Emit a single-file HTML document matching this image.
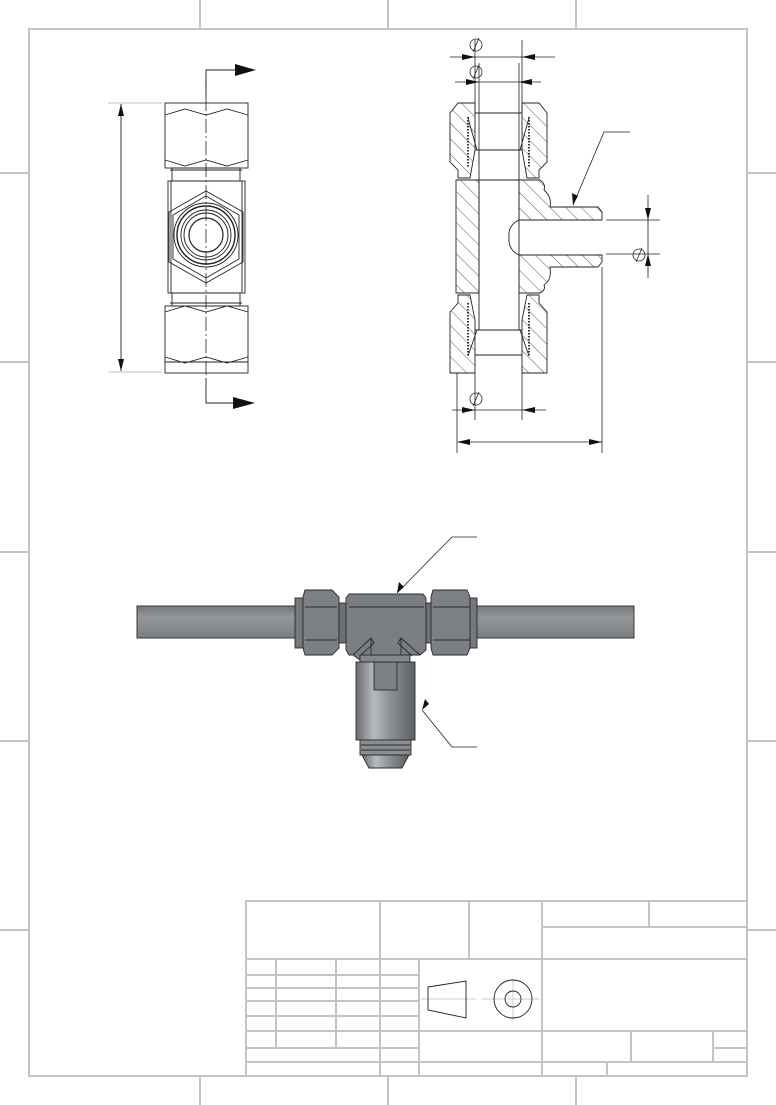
<!DOCTYPE html>
<html><head><meta charset="utf-8"><style>html,body{margin:0;padding:0;background:#fff}svg{display:block}</style></head><body>
<svg width="776" height="1105" viewBox="0 0 776 1105" xmlns="http://www.w3.org/2000/svg" font-family="Liberation Sans, sans-serif">
<defs>
<pattern id="h" patternUnits="userSpaceOnUse" width="11" height="11" patternTransform="rotate(-45)">
<rect width="11" height="11" fill="#fff"/><line x1="0" y1="0" x2="0" y2="11" stroke="#333" stroke-width="0.8"/>
</pattern>
<linearGradient id="tube" x1="0" y1="0" x2="0" y2="1"><stop offset="0" stop-color="#76797c"/><stop offset="0.35" stop-color="#94979a"/><stop offset="1" stop-color="#7b7e81"/></linearGradient>
<linearGradient id="cyl" x1="0" y1="0" x2="1" y2="0"><stop offset="0" stop-color="#6a6d70"/><stop offset="0.3" stop-color="#b8bbbe"/><stop offset="0.6" stop-color="#8b8e91"/><stop offset="1" stop-color="#5d6063"/></linearGradient>
</defs>
<g stroke="#c4c4c4" stroke-width="2" fill="none">
<rect x="29" y="29" width="718" height="1047"/>
<path d="M200 0V29M388 0V29M576 0V29M200 1076V1105M388 1076V1105M576 1076V1105M0 173H29M0 362H29M0 552H29M0 741H29M0 930H29M747 173H776M747 362H776M747 552H776M747 741H776M747 930H776"/>
</g>
<g stroke="#c4c4c4" stroke-width="2" fill="none">
<rect x="246" y="901" width="501" height="175"/>
<path d="M380 901V1076M469 901V959M542 901V1076M649 901V927M542 927H747M246 959H747M419 959V1076M276 959V1048M336 959V1048M246 975H419M246 988H419M246 1001H419M246 1016H419M246 1031H747M246 1048H419M246 1062H747M631 1031V1062M713 1031V1062M713 1048H747M607 1062V1076"/>
</g>
<g stroke="#ccc" stroke-width="1"><path d="M421 999H476M481 999H539M513 979V1020"/></g>
<g stroke="#222" stroke-width="0.9" fill="none">
<path d="M428 987L466 981V1018L428 1010Z"/>
<circle cx="513" cy="999" r="19"/><circle cx="513" cy="999" r="8"/>
</g>
<g stroke="#222" stroke-width="0.9" fill="none">
<rect x="165" y="103" width="83" height="65"/>
<path d="M165 115 L185 109 L206 115 L227 109 L248 115M165 160 L185 166 L206 160 L227 166 L248 160"/>
<rect x="172" y="168" width="68" height="13"/>
<path d="M170 170H242M170 303H242"/>
<rect x="168" y="181" width="77" height="112"/>
<path d="M171 181V293M242 181V293"/>
<path d="M206 191L243 212V262L206 283L169 262V212Z"/>
<path d="M206 196L239 215V259L206 278L173 259V215Z"/>
<circle cx="206" cy="235" r="32"/><circle cx="206" cy="235" r="29" stroke-width="1.4"/><circle cx="206" cy="235" r="25"/><circle cx="206" cy="235" r="22"/><circle cx="206" cy="235" r="17" stroke-width="1.2"/>
<rect x="172" y="293" width="68" height="13"/>
<rect x="165" y="306" width="83" height="67"/>
<path d="M165 312 L185 306 L206 312 L227 306 L248 312M165 357 L185 363 L206 357 L227 363 L248 357M165 362H248"/>
<path d="M206 98V70H237M206 378V403H235"/>
<path d="M121 104V371"/>
</g>
<path d="M206 75V378" stroke="#222" stroke-width="0.8" stroke-dasharray="14 3 2 3"/>
<g fill="#111"><path d="M235 64L256 70L235 76Z"/><path d="M233 397L255 403L233 409Z"/><path d="M121 104L118 116H124Z"/><path d="M121 371L118 359H124Z"/></g>
<path d="M108 103H162M108 372H162" stroke="#aaa" stroke-width="0.8"/>
<g stroke="#222" stroke-width="0.9">
<path d="M450 113L458 103H475V150L470 178H458L458 170L450 162Z" fill="url(#h)"/>
<path d="M547 113L539 103H522V150L527 178H539L539 170L547 162Z" fill="url(#h)"/>
<path d="M456 180H479V293H456Z" fill="url(#h)"/>
<path d="M519 180H540Q546 184 544 190Q552 197 550 207H598L602 212V220H519Z" fill="url(#h)"/>
<path d="M519 255H602V262L598 267H550Q552 280 544 285Q546 290 540 293H519Z" fill="url(#h)"/>
<path d="M450 312L458 303V295H470L475 320V373H450Z" fill="url(#h)"/>
<path d="M547 312L539 303V295H527L522 320V373H547Z" fill="url(#h)"/>
<g fill="none">
<path d="M475 113H522M475 150H522M479 150V180M519 150V180M475 180H522M479 180V293M519 180V293M479 293V330M519 293V330M475 330H522M475 355H522"/>
<path d="M519 220Q508 225 509 237Q508 250 519 255"/>
<path d="M468 117V168M529 117V168M468 303V355M529 303V355" stroke-dasharray="1.5 1.5" stroke-width="1.8"/>
<path d="M468 118L477 150M529 118L520 150M468 356L477 330M529 356L520 330"/>
</g>
</g>
<g stroke="#222" stroke-width="0.8" fill="none">
<path d="M475 40V113M522 40V113M479 63V150M519 63V150M475 373V420M522 373V420"/>
<path d="M450 57H555M455 82H541M452 410H546M458 442H602"/>
<path d="M457 373V453M602 267V453"/>
<path d="M606 220H660M606 254H660M648 195V278"/>
<path d="M573 205L604 132H630M397 593L452 537H477M422 710L452 747H477"/>
<circle cx="476" cy="45" r="6"/><path d="M473 52L479 38"/>
<circle cx="476" cy="72" r="6"/><path d="M473 79L479 65"/>
<circle cx="476" cy="399" r="6"/><path d="M473 406L479 392"/>
<circle cx="639" cy="255" r="6"/><path d="M636 262L642 248"/>
</g>
<g fill="#111">
<path d="M475 57L462 54V60Z"/><path d="M522 57L535 54V60Z"/>
<path d="M479 82L466 79V85Z"/><path d="M519 82L532 79V85Z"/>
<path d="M475 410L462 407V413Z"/><path d="M522 410L535 407V413Z"/>
<path d="M457 442L470 439V445Z"/><path d="M602 442L589 439V445Z"/>
<path d="M648 220L645 208H651Z"/><path d="M648 254L645 266H651Z"/>
<path d="M573 205L572 193L578 196Z"/>
<path d="M397 593L399 582L404 587Z"/>
<path d="M422 710L425 699L429 704Z"/>
</g>
<g stroke="#2a2a2a" stroke-width="0.9">
<rect x="137" y="606" width="497" height="32" fill="url(#tube)"/>
<rect x="295" y="598" width="10" height="50" fill="#75787c"/>
<path d="M305 590H332L339 597V648L332 655H305L303 648V597Z" fill="#7c7f83"/>
<path d="M305 607H337M305 640H337" fill="none"/>
<rect x="339" y="603" width="9" height="40" fill="#6d7073"/>
<path d="M349 594H423L426 598V650L420 655H404L398 660H360L353 655H349L346 650V598Z" fill="#7a7d81"/>
<path d="M349 607H424M353 655L371 638L374 643L360 656M420 655L401 638L398 643L412 656M371 638V655M401 638V655" fill="none"/>
<rect x="426" y="603" width="6" height="40" fill="#6d7073"/>
<path d="M433 590H467L470 597V648L467 655H433L431 648V597Z" fill="#7c7f83"/>
<rect x="470" y="598" width="7" height="50" fill="#75787c"/>
<path d="M433 607H470M433 640H470" fill="none"/>
<rect x="360" y="655" width="50" height="7" fill="#84878b"/>
<rect x="356" y="662" width="59" height="78" fill="url(#cyl)"/>
<rect x="374" y="662" width="23" height="28" fill="#7d8083"/>
<rect x="360" y="740" width="51" height="15" fill="#8a8d90"/>
<path d="M361 745H410M361 750H410" fill="none"/>
<path d="M362 755H409L402 768H369Z" fill="url(#cyl)"/>
</g>
</svg>
</body></html>
